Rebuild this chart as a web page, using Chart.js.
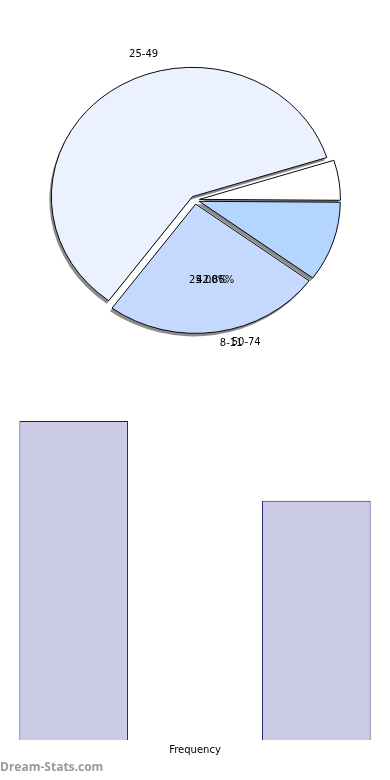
<!DOCTYPE html>
<html><head><meta charset="utf-8">
<script src="https://cdn.jsdelivr.net/npm/chart.js@4"></script>
<style>
html,body{margin:0;padding:0;background:#fff;width:390px;height:780px;overflow:hidden;font-family:"DejaVu Sans";}
#pieWrap{position:absolute;left:0;top:0;width:390px;height:400px;}
#barWrap{position:absolute;left:0;top:400px;width:390px;height:360px;}
#wm{position:absolute;left:0;top:759px;font:bold 12px "Open Sans";color:#9a9a9a;line-height:16px;}
</style></head><body>
<div id="pieWrap"><canvas id="pie" width="390" height="400"></canvas></div>
<div id="barWrap"><canvas id="bar" width="390" height="360"></canvas></div>
<div id="wm">Dream-Stats.com</div>
<script>
// ---- data ----
const pieCategories = ['25-49', '', '50-74', '8-11'];
const pieValues = [60, 5, 10, 25];
const percentLabels = ['25.00%', '42.86%'];
const barCategories = ['', '', ''];
const barValues = [4, null, 3];

// ---- styling / layout ----
const pieColors = ['#EBF1FF', '#FFFFFF', '#B4D5FF', '#C5D9FF'];
const labelPlacement = [{angle:108, dist:1.18}, null, {angle:-71.7, dist:1.156}, {angle:-77, dist:1.142}];
const percentPlacement = [{angle:-81.5, dist:0.628}, {angle:-77, dist:0.637}];
const SY = 0.917;

const explodePlugin = {
  id: 'explode',
  beforeDatasetsDraw(chart, args, opts) {
    const meta = chart.getDatasetMeta(0);
    const ctx = chart.ctx;
    const a0 = meta.data[0];
    const cx = a0.x, cy = a0.y;
    ctx.save();
    ctx.translate(cx, cy); ctx.scale(1, SY); ctx.translate(-cx, -cy);
    ctx.fillStyle = opts.shadowColor;
    meta.data.forEach(el => {
      const mid = (el.startAngle + el.endAngle) / 2;
      const x = el.x + Math.cos(mid) * opts.dist + opts.shadowDx;
      const y = el.y + Math.sin(mid) * opts.dist + opts.shadowDy / SY;
      ctx.beginPath(); ctx.moveTo(x, y);
      ctx.arc(x, y, el.outerRadius, el.startAngle, el.endAngle);
      ctx.closePath(); ctx.fill();
      if (!el._patched) {
        const orig = el.draw;
        const d = opts.dist;
        el.draw = function (c) {
          c.save();
          const m = (this.startAngle + this.endAngle) / 2;
          c.translate(Math.cos(m) * d, Math.sin(m) * d);
          orig.call(this, c);
          c.restore();
        };
        el._patched = true;
      }
    });
  },
  afterDatasetsDraw(chart) {
    chart.ctx.restore();
    const meta = chart.getDatasetMeta(0);
    const a0 = meta.data[0];
    const cx = a0.x, cy = a0.y, r = a0.outerRadius;
    const ctx = chart.ctx;
    ctx.save();
    ctx.fillStyle = '#000';
    ctx.font = '10px "DejaVu Sans"';
    ctx.textAlign = 'center'; ctx.textBaseline = 'middle';
    const pos = p => {
      const a = p.angle * Math.PI / 180;
      return [cx + Math.cos(a) * r * p.dist, cy - Math.sin(a) * r * SY * p.dist];
    };
    pieCategories.forEach((t, i) => {
      if (!t || !labelPlacement[i]) return;
      const [x, y] = pos(labelPlacement[i]);
      ctx.fillText(t, x, y);
    });
    percentLabels.forEach((t, i) => {
      const [x, y] = pos(percentPlacement[i]);
      ctx.fillText(t, x, y);
    });
    ctx.restore();
  }
};

new Chart(document.getElementById('pie'), {
  type: 'pie',
  data: {
    labels: pieCategories,
    datasets: [{
      data: pieValues,
      backgroundColor: pieColors,
      borderColor: '#000',
      borderWidth: 1
    }]
  },
  options: {
    responsive: false,
    animation: false,
    events: [],
    radius: 141,
    rotation: 216.4,
    layout: {padding: 0},
    plugins: {
      legend: {display: false},
      tooltip: {enabled: false},
      explode: {dist: 4.5, shadowDx: -2, shadowDy: 3, shadowColor: '#8c8c8c'}
    }
  },
  plugins: [explodePlugin]
});

new Chart(document.getElementById('bar'), {
  type: 'bar',
  data: {
    labels: barCategories,
    datasets: [{
      data: barValues,
      backgroundColor: '#CCCCE6',
      borderColor: '#191970',
      borderWidth: 1,
      barPercentage: 0.895,
      categoryPercentage: 1
    }]
  },
  options: {
    responsive: false,
    animation: false,
    events: [],
    layout: {padding: {left: 13, right: 13, top: 21, bottom: 0}},
    plugins: {legend: {display: false}, tooltip: {enabled: false}},
    scales: {
      x: {
        grid: {display: false},
        border: {display: false},
        ticks: {display: false},
        title: {display: true, text: 'Frequency', color: '#000', font: {family: 'DejaVu Sans', size: 10}, padding: {top: -4, bottom: 4}}
      },
      y: {display: false, min: 0, max: 4}
    }
  }
});
</script>
</body></html>
